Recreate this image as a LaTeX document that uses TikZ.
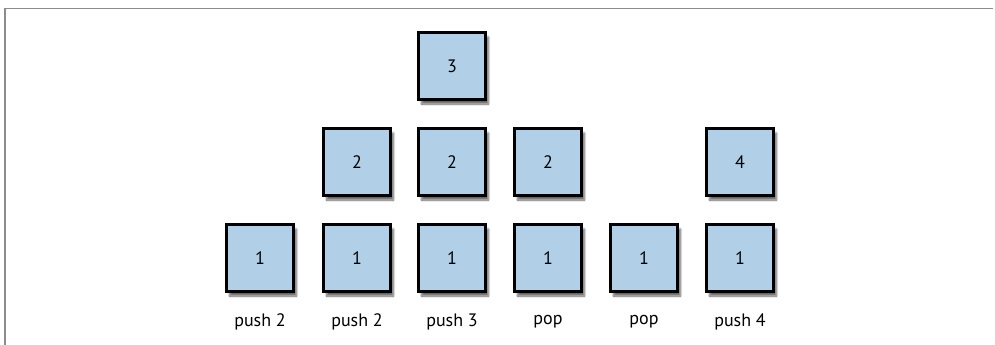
\documentclass[tikz,border=0pt]{standalone}
\usepackage{fontspec}
\setmainfont{PT Sans}
\usetikzlibrary{shadows.blur}
\definecolor{boxfill}{HTML}{B1D0E8}
\definecolor{framegray}{HTML}{8C8C8C}
\tikzset{
  cell/.style={draw=black, line width=3.2pt, fill=boxfill, minimum width=67pt, minimum height=67pt, inner sep=0pt,
    blur shadow={shadow xshift=3pt, shadow yshift=-4.5pt, shadow blur steps=6, shadow opacity=60},
    font=\fontsize{18}{20}\selectfont},
  lbl/.style={font=\fontsize{18}{20}\selectfont, inner sep=0pt},
  frameline/.style={draw=framegray, line width=1.6pt}
}
\begin{document}
\begin{tikzpicture}[x=1pt,y=-1pt]
\useasboundingbox (0,0) rectangle (995,345);
\coordinate (ftr) at (993,8.5);
\coordinate (ftl) at (5,8.5);
\coordinate (fbl) at (5,345);
\draw[frameline] (ftr) -- (ftl) -- (fbl);
% row 1
\node[cell] (a1) at (260,258) {1};
\node[cell] (b1) at (357,258) {1};
\node[cell] (c1) at (452,258) {1};
\node[cell] (d1) at (548,258) {1};
\node[cell] (e1) at (644,258) {1};
\node[cell] (f1) at (740,258) {1};
% row 2
\node[cell] (b2) at (357,162) {2};
\node[cell] (c2) at (452,162) {2};
\node[cell] (d2) at (548,162) {2};
\node[cell] (f2) at (740,162) {4};
% row 3
\node[cell] (c3) at (452,66) {3};
% labels
\node[lbl] (la) at (260,322) {push 2};
\node[lbl] (lb) at (357,322) {push 2};
\node[lbl] (lc) at (452,322) {push 3};
\node[lbl] (ld) at (548,322) {pop};
\node[lbl] (le) at (644,322) {pop};
\node[lbl] (lf) at (740,322) {push 4};
\end{tikzpicture}
\end{document}
